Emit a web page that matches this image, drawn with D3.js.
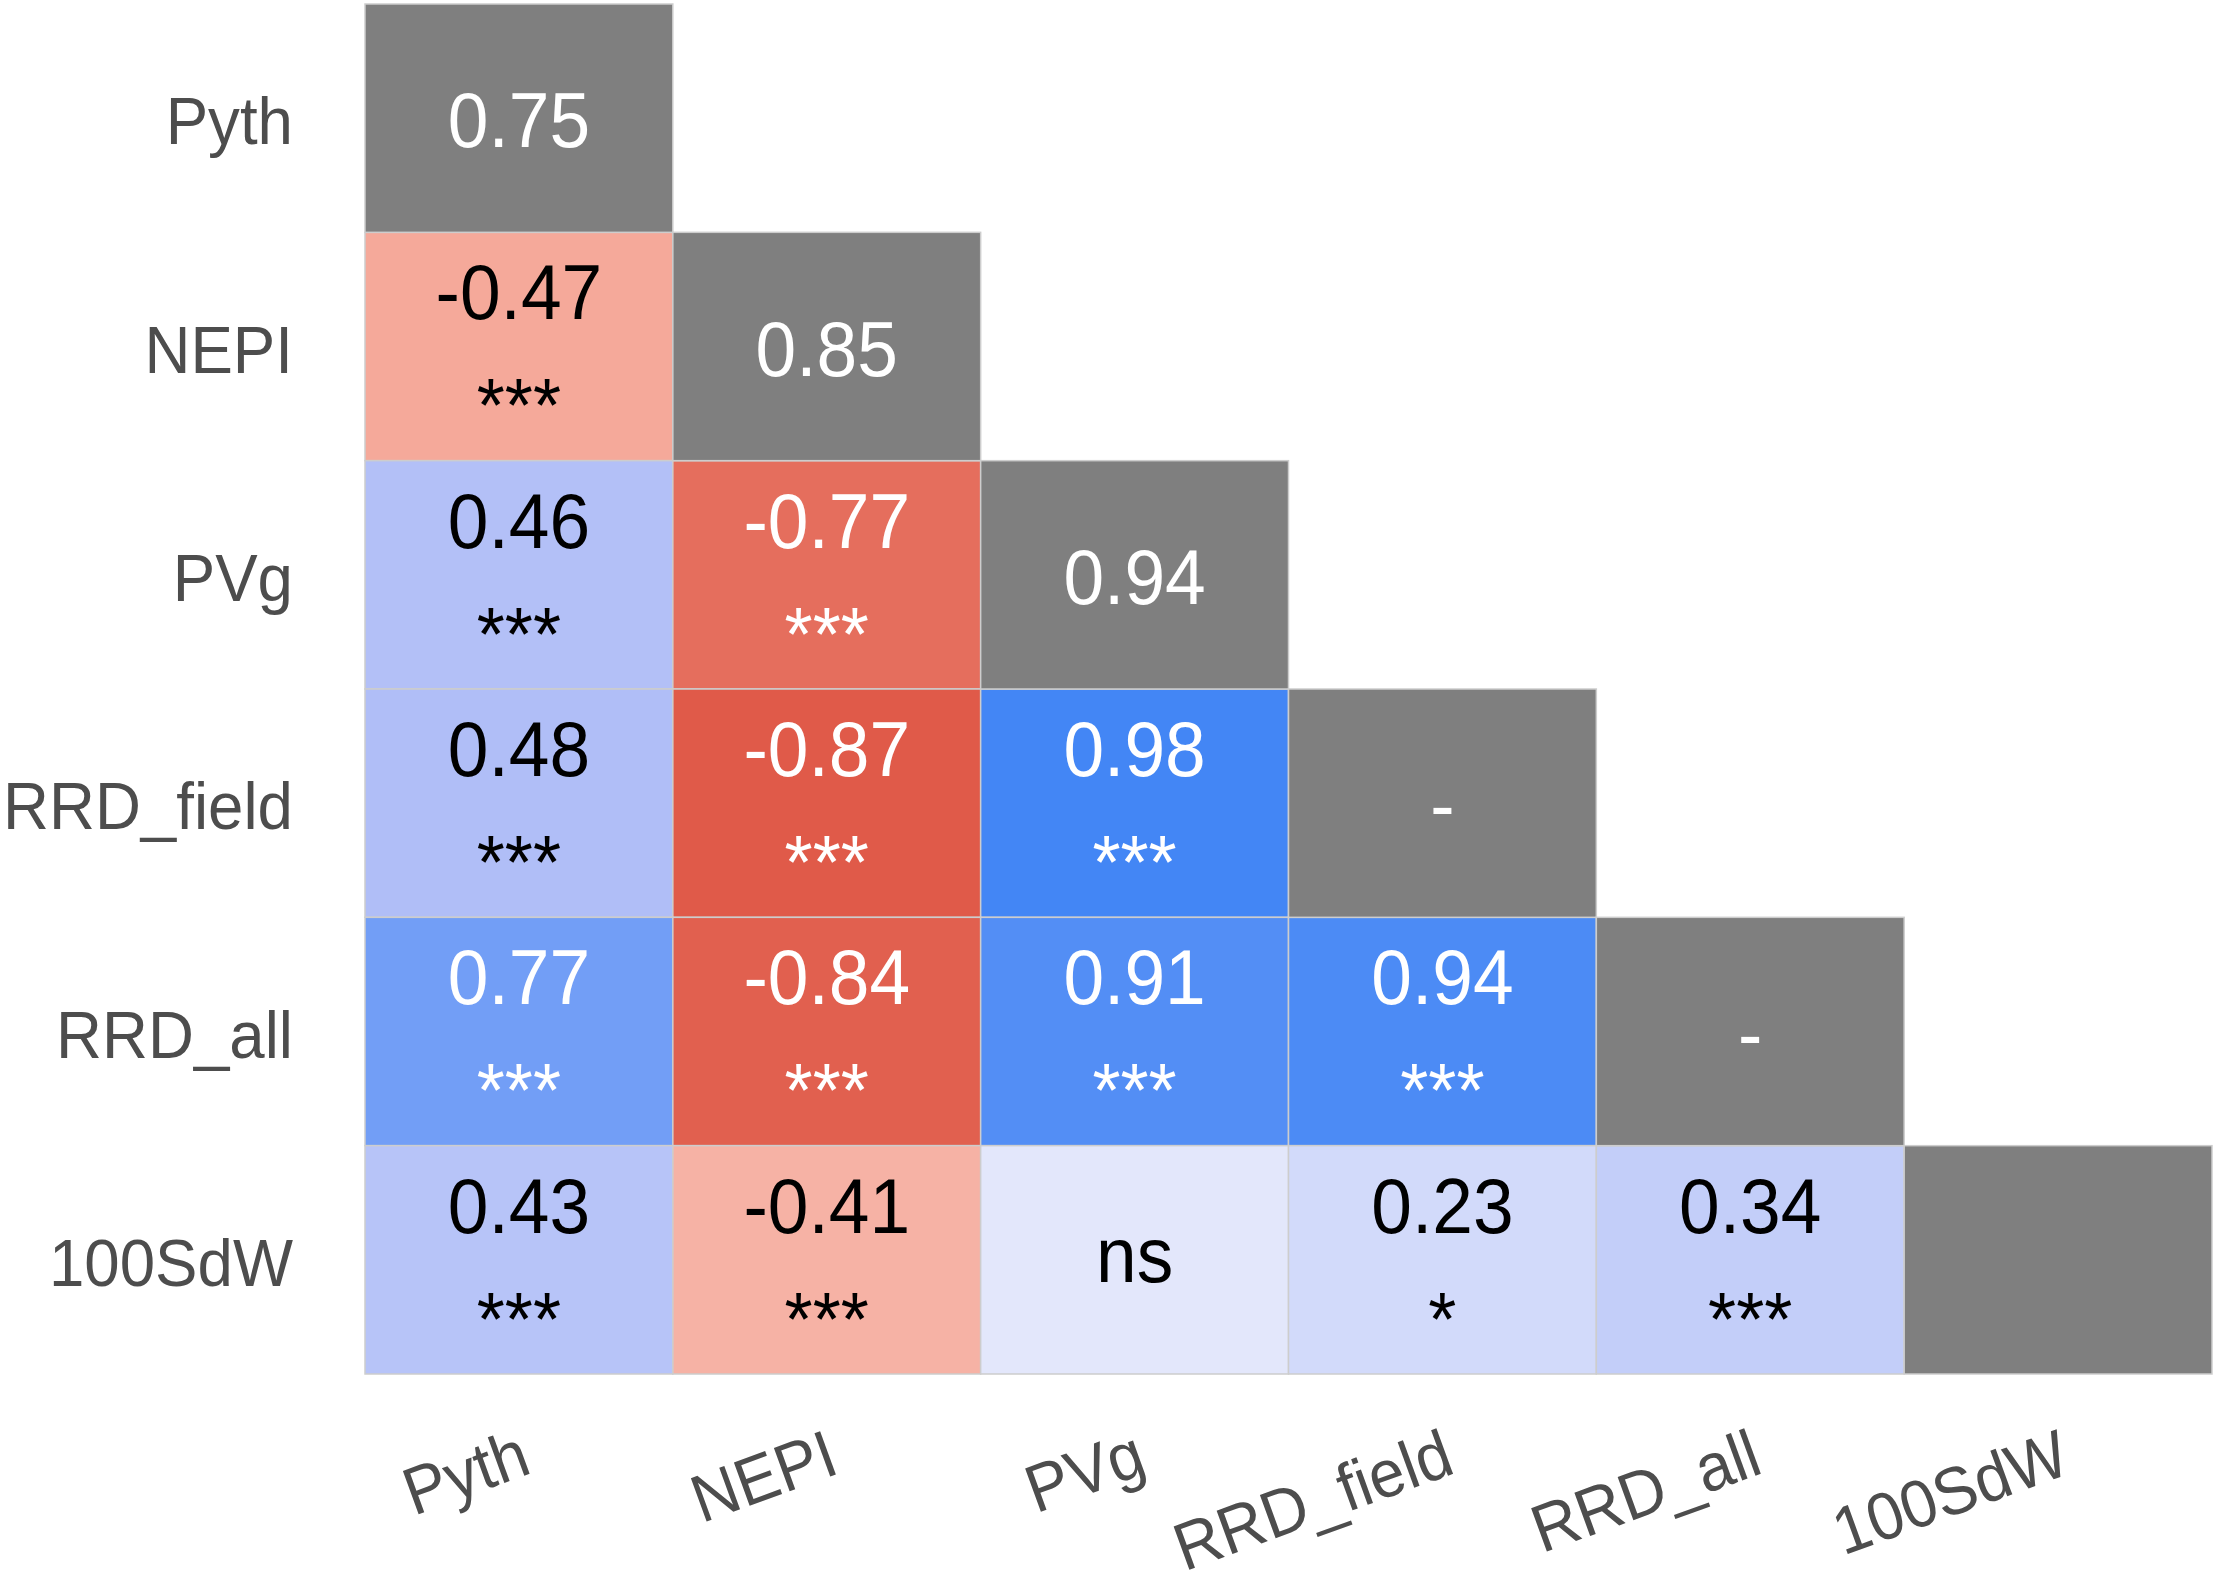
<!DOCTYPE html>
<html>
<head>
<meta charset="utf-8">
<script src="https://cdn.jsdelivr.net/npm/d3@7"></script>
<style>
  html, body { margin: 0; padding: 0; background: #ffffff; }
  svg { display: block; }
  text { font-family: "Liberation Sans", Arial, "DejaVu Sans", sans-serif; }
</style>
</head>
<body>
<svg id="chart" width="2217" height="1586"></svg>
<script>
// ---------------- data ----------------
const traits = ["Pyth", "NEPI", "PVg", "RRD_field", "RRD_all", "100SdW"];
// diagonal labels (heritability)
const diagLabels = ["0.75", "0.85", "0.94", "-", "-", ""];
// lower-triangle correlations, one array per row (columns Pyth..)
const corrNEPI     = [-0.47];
const corrPVg      = [0.46, -0.77];
const corrRRDfield = [0.48, -0.87, 0.98];
const corrRRDall   = [0.77, -0.84, 0.91, 0.94];
const corr100SdW   = [0.43, -0.41, 0.11, 0.23, 0.34];
// significance labels matching the arrays above
const sigNEPI     = ["***"];
const sigPVg      = ["***", "***"];
const sigRRDfield = ["***", "***", "***"];
const sigRRDall   = ["***", "***", "***", "***"];
const sig100SdW   = ["***", "***", "ns", "*", "***"];

const corrRows = [[], corrNEPI, corrPVg, corrRRDfield, corrRRDall, corr100SdW];
const sigRows  = [[], sigNEPI, sigPVg, sigRRDfield, sigRRDall, sig100SdW];

// ---------------- build cells ----------------
const cells = [];
traits.forEach((rowName, i) => {
  corrRows[i].forEach((r, j) => {
    cells.push({ row: rowName, col: traits[j], r: r, sig: sigRows[i][j] });
  });
});
const diagCells = traits.map((t, i) => ({ row: t, col: t, label: diagLabels[i] }));

// ---------------- scales ----------------
const svg = d3.select("#chart");
const x = d3.scaleBand().domain(traits).range([365, 2212]).padding(0);
const y = d3.scaleBand().domain(traits).range([4, 1374]).padding(0);
const colorNeg = d3.scaleLinear().domain([-1, -0.5, 0]).range(["#d8402e", "#f5a595", "#fcefee"]);
const colorPos = d3.scaleLinear().domain([0, 0.5, 1]).range(["#f2f3fc", "#adbcf7", "#3f84f5"]);
const color = r => r < 0 ? colorNeg(r) : colorPos(r);
const fmt = r => r.toFixed(2); // keeps an ASCII hyphen for negatives

const SX = 0.95; // horizontal compression of glyphs
const numSize = 77, starSize = 76, labelSize = 67;
const stroke = "#cdcdcd";

// ---------------- correlation cells ----------------
const g = svg.append("g");
g.selectAll("rect.corr").data(cells).enter().append("rect")
  .attr("class", "corr")
  .attr("x", d => x(d.col)).attr("y", d => y(d.row))
  .attr("width", x.bandwidth()).attr("height", y.bandwidth())
  .attr("fill", d => color(d.r))
  .attr("stroke", stroke).attr("stroke-width", 1.5);

g.selectAll("rect.diag").data(diagCells).enter().append("rect")
  .attr("class", "diag")
  .attr("x", d => x(d.col)).attr("y", d => y(d.row))
  .attr("width", x.bandwidth()).attr("height", y.bandwidth())
  .attr("fill", "#7f7f7f")
  .attr("stroke", stroke).attr("stroke-width", 1.5);

const txtColor = d => Math.abs(d.r) >= 0.7 ? "#ffffff" : "#000000";

// numbers + stars (two-line cells)
const sigCells = cells.filter(d => d.sig !== "ns");
g.selectAll("text.num").data(sigCells).enter().append("text")
  .attr("class", "num")
  .attr("transform", d => `translate(${x(d.col) + x.bandwidth() / 2},${y(d.row) + 87}) scale(${SX},1)`)
  .attr("text-anchor", "middle")
  .attr("font-size", numSize)
  .attr("fill", txtColor)
  .text(d => fmt(d.r));

g.selectAll("text.sig").data(sigCells).enter().append("text")
  .attr("class", "sig")
  .attr("transform", d => `translate(${x(d.col) + x.bandwidth() / 2},${y(d.row) + 199}) scale(${SX},1)`)
  .attr("text-anchor", "middle")
  .attr("font-size", starSize)
  .attr("fill", txtColor)
  .text(d => d.sig);

// non-significant cells
g.selectAll("text.ns").data(cells.filter(d => d.sig === "ns")).enter().append("text")
  .attr("class", "ns")
  .attr("transform", d => `translate(${x(d.col) + x.bandwidth() / 2},${y(d.row) + y.bandwidth() / 2 + 22}) scale(${SX},1)`)
  .attr("text-anchor", "middle")
  .attr("font-size", numSize)
  .attr("fill", "#000000")
  .text(d => d.sig);

// diagonal labels
g.selectAll("text.diag").data(diagCells).enter().append("text")
  .attr("class", "diag")
  .attr("transform", d => `translate(${x(d.col) + x.bandwidth() / 2},${y(d.row) + y.bandwidth() / 2 + 29}) scale(${SX},1)`)
  .attr("text-anchor", "middle")
  .attr("font-size", numSize)
  .attr("fill", "#ffffff")
  .text(d => d.label);

// ---------------- axes labels ----------------
svg.append("g").selectAll("text").data(traits).enter().append("text")
  .attr("transform", d => `translate(293,${y(d) + y.bandwidth() / 2 + 26}) scale(${SX},1)`)
  .attr("text-anchor", "end")
  .attr("font-size", labelSize)
  .attr("fill", "#4d4d4d")
  .text(d => d);

svg.append("g").selectAll("text").data(traits).enter().append("text")
  .attr("transform", d => `translate(${x(d) + x.bandwidth() / 2 - 2},1427) rotate(-20) scale(${SX},1)`)
  .attr("text-anchor", "end")
  .attr("dy", "0.72em")
  .attr("font-size", labelSize)
  .attr("fill", "#4d4d4d")
  .text(d => d);
</script>
</body>
</html>
